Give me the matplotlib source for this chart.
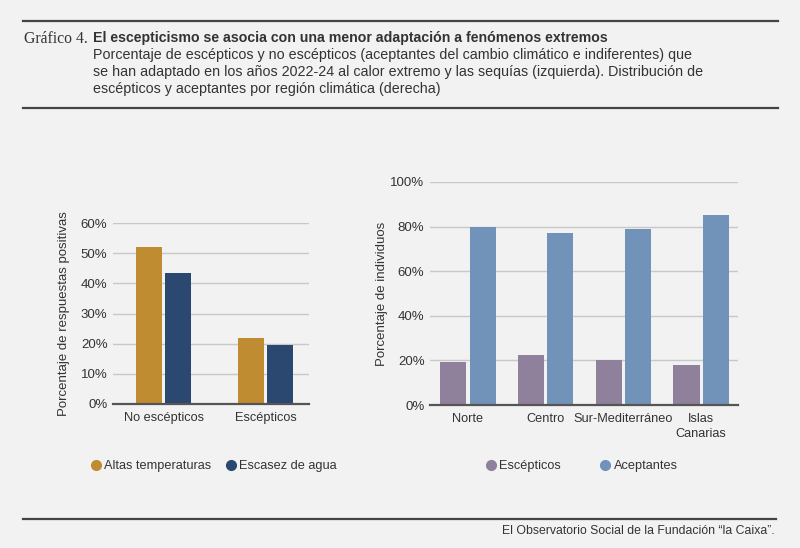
import matplotlib
matplotlib.use("Agg")
import matplotlib.pyplot as plt
from matplotlib.lines import Line2D
from matplotlib.ticker import PercentFormatter
import numpy as np

# Data
left_cats = ["No escépticos", "Escépticos"]
altas_temp = [52.0, 21.8]
escasez_agua = [43.3, 19.6]
left_yticks = [0, 10, 20, 30, 40, 50, 60]

right_cats = ["Norte", "Centro", "Sur-Mediterráneo", "Islas\nCanarias"]
escepticos = [19.3, 22.2, 20.1, 18.1]
aceptantes = [80.0, 77.2, 79.1, 85.1]
right_yticks = [0, 20, 40, 60, 80, 100]

BG = "#F2F2F2"
GOLD = "#BF8C32"
NAVY = "#2A4870"
PURPLE = "#8F809C"
BLUE = "#7193BA"
TXT = "#333333"
GRID = "#C8C8C8"

plt.rcParams["font.family"] = ["Liberation Sans", "DejaVu Sans"]

W, H = 800, 548
fig = plt.figure(figsize=(W / 100, H / 100), dpi=100, facecolor=BG)

def ax_rect(x0, x1, ytop, ybot):
    return [x0 / W, 1 - ybot / H, (x1 - x0) / W, (ybot - ytop) / H]

def style(ax):
    ax.set_facecolor(BG)
    for s in ["top", "right", "left"]:
        ax.spines[s].set_visible(False)
    ax.spines["bottom"].set_color("#555555")
    ax.spines["bottom"].set_linewidth(1.6)
    ax.spines["bottom"].set_zorder(5)
    ax.grid(axis="y", color=GRID, linewidth=1.0)
    ax.set_axisbelow(True)
    ax.tick_params(axis="y", length=0, labelsize=9.5, colors=TXT, pad=4)
    ax.tick_params(axis="x", length=0, labelsize=9.2, colors=TXT, pad=6)
    ax.yaxis.set_major_formatter(PercentFormatter(decimals=0))

# Left chart
axL = fig.add_axes(ax_rect(113, 309, 223, 404))
style(axL)
xl = np.arange(len(left_cats))
off, bw = 0.142, 0.255
axL.bar(xl - off, altas_temp, width=bw, color=GOLD, zorder=3)
axL.bar(xl + off, escasez_agua, width=bw, color=NAVY, zorder=3)
axL.set_xlim(-0.495, 1.426)
axL.set_ylim(0, 60)
axL.set_yticks(left_yticks)
axL.set_xticks(xl)
axL.set_xticklabels(left_cats)
axL.set_ylabel("Porcentaje de respuestas positivas", fontsize=9.5, color=TXT, labelpad=8)

# Right chart
axR = fig.add_axes(ax_rect(430, 738, 182, 405))
style(axR)
xr = np.arange(len(right_cats))
off2, bw2 = 0.187, 0.335
axR.bar(xr - off2, escepticos, width=bw2, color=PURPLE, zorder=3)
axR.bar(xr + off2, aceptantes, width=bw2, color=BLUE, zorder=3)
axR.set_xlim(-0.489, 3.476)
axR.set_ylim(0, 100)
axR.set_yticks(right_yticks)
axR.set_xticks(xr)
axR.set_xticklabels(right_cats, linespacing=1.25)
axR.set_ylabel("Porcentaje de individuos", fontsize=9.5, color=TXT, labelpad=1.5)

# Legends
def mk(c):
    return Line2D([], [], marker="o", linestyle="none", markersize=7,
                  markerfacecolor=c, markeredgecolor=c)

fig.legend([mk(GOLD), mk(NAVY)], ["Altas temperaturas", "Escasez de agua"],
           loc="center", bbox_to_anchor=(213 / W, 1 - 466 / H), ncol=2,
           frameon=False, fontsize=9.2, handletextpad=0.1, columnspacing=1.1,
           labelcolor=TXT, handlelength=1.0)
fig.legend([mk(PURPLE), mk(BLUE)], ["Escépticos", "Aceptantes"],
           loc="center", bbox_to_anchor=(581 / W, 1 - 466 / H), ncol=2,
           frameon=False, fontsize=9.2, handletextpad=0.15, columnspacing=3.0,
           labelcolor=TXT, handlelength=1.0)

# Header / footer rules
for y, x1 in [(20.5, 778), (107.5, 778), (519, 776)]:
    fig.add_artist(Line2D([23 / W, x1 / W], [1 - y / H, 1 - y / H], color="#444444", linewidth=1.6))

fig.text(24 / W, 1 - 39 / H, "Gráfico 4.", family=["Liberation Serif", "DejaVu Serif"],
         fontsize=11.3, color=TXT, va="center", ha="left")
fig.text(93 / W, 1 - 38 / H, "El escepticismo se asocia con una menor adaptación a fenómenos extremos",
         fontweight="bold", fontsize=10.2, color=TXT, va="center", ha="left")
sub = ["Porcentaje de escépticos y no escépticos (aceptantes del cambio climático e indiferentes) que",
       "se han adaptado en los años 2022-24 al calor extremo y las sequías (izquierda). Distribución de",
       "escépticos y aceptantes por región climática (derecha)"]
for i, line in enumerate(sub):
    fig.text(93 / W, 1 - (55 + 16.8 * i) / H, line,
             fontsize=10.3, color=TXT, va="center", ha="left")

fig.text(775 / W, 1 - 531 / H, "El Observatorio Social de la Fundación \u201cla Caixa\u201d.",
         fontsize=8.8, color=TXT, va="center", ha="right")

fig.savefig("out.png", dpi=100, facecolor=BG)
